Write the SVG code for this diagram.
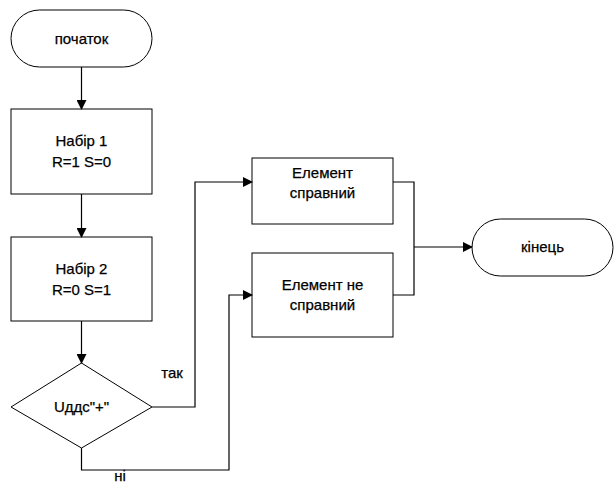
<svg xmlns="http://www.w3.org/2000/svg" width="615" height="484" viewBox="0 0 615 484">
<style>
.s{fill:#fff;stroke:#000;stroke-width:1}
.c{fill:none;stroke:#000;stroke-width:1.2}
text{font-family:"Liberation Sans",Arial,sans-serif;font-size:15px;fill:#000;text-anchor:middle;stroke:#000;stroke-width:0.25}
</style>
<defs>
<marker id="a" markerWidth="10" markerHeight="10" refX="9" refY="5" orient="auto" markerUnits="userSpaceOnUse">
<path d="M0,0 L10,5 L0,10 Z" fill="#000"/>
</marker>
</defs>
<rect width="615" height="484" fill="#fff"/>
<g id="start"><rect class="s" x="11" y="10" width="141" height="57" rx="28.5"/><text x="81.5" y="44">початок</text></g>
<g id="set1"><rect class="s" x="11" y="109" width="141" height="85"/><text x="81.5" y="146">Набір 1</text><text x="81.5" y="167">R=1 S=0</text></g>
<g id="set2"><rect class="s" x="11" y="237" width="141" height="84"/><text x="81.5" y="274">Набір 2</text><text x="81.5" y="295">R=0 S=1</text></g>
<g id="dec"><polygon class="s" points="81.5,363 152,407 81.5,448 11,407"/><text x="81.5" y="412">Uддс"+"</text></g>
<g id="ok"><rect class="s" x="252" y="158" width="141" height="66"/><text x="322.5" y="178">Елемент</text><text x="322.5" y="198">справний</text></g>
<g id="bad"><rect class="s" x="252" y="253" width="141" height="84"/><text x="322.5" y="290">Елемент не</text><text x="322.5" y="310">справний</text></g>
<g id="end"><rect class="s" x="472" y="219" width="141" height="57" rx="28.5"/><text x="542.5" y="252">кінець</text></g>
<g id="connectors">
<path class="c" d="M81.5,67 V109" marker-end="url(#a)"/>
<path class="c" d="M81.5,194 V237" marker-end="url(#a)"/>
<path class="c" d="M81.5,321 V363" marker-end="url(#a)"/>
<path class="c" d="M152,407 H195 V182 H252" marker-end="url(#a)"/>
<path class="c" d="M81.5,448 V470 H229 V295 H252" marker-end="url(#a)"/>
<path class="c" d="M393,182 H414 V295 H393"/>
<path class="c" d="M414,247 H472" marker-end="url(#a)"/>
</g>
<text x="172" y="378">так</text>
<text x="120" y="481">ні</text>
</svg>
